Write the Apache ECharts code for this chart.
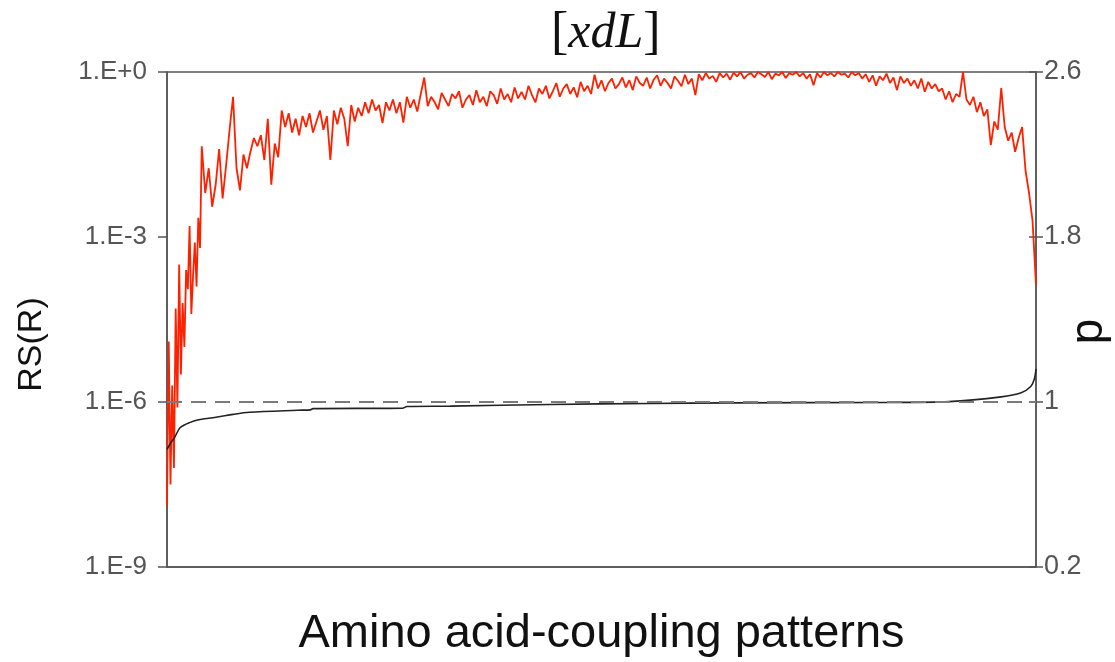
<!DOCTYPE html>
<html><head><meta charset="utf-8">
<script src="https://cdn.jsdelivr.net/npm/echarts@6/dist/echarts.min.js"></script>
<style>html,body{margin:0;padding:0;background:#fff}#c{width:1115px;height:662px}</style>
</head><body><div id="c"></div>
<script>
// RS(R), stored as log10 exponents.
// Head: pattern ranks 0..40, step 2
const rsHeadExp = [-7.9,-4.9,-7.5,-5.7,-7.2,-4.3,-6.1,-3.5,-5.5,-4.2,
  -5.0,-3.6,-3.95,-2.8,-4.4,-3.7,-3.1,-3.9,-2.65,-3.2,-1.35];
// Tail: pattern ranks 44..1000, step 4
const rsTailExp = [
  -2.2,-1.75,-2.45,-2.05,-1.4,-2.3,-1.7,-1.05,-0.45,-1.75,
  -2.15,-1.5,-1.75,-1.45,-1.2,-1.35,-1.15,-1.6,-0.85,-2.05,
  -1.3,-1.55,-0.7,-1.0,-0.75,-1.1,-0.85,-1.15,-0.8,-1.0,
  -0.75,-1.1,-0.9,-0.7,-1.05,-0.8,-1.6,-0.7,-0.95,-0.65,
  -0.85,-1.35,-0.6,-0.9,-0.65,-0.8,-0.55,-0.75,-0.5,-0.7,
  -0.6,-0.93,-0.55,-0.7,-0.5,-0.75,-0.55,-0.92,-0.45,-0.65,
  -0.5,-0.72,-0.4,-0.1,-0.62,-0.45,-0.55,-0.68,-0.38,-0.5,
  -0.62,-0.4,-0.48,-0.35,-0.65,-0.5,-0.42,-0.6,-0.33,-0.55,
  -0.45,-0.62,-0.35,-0.42,-0.58,-0.3,-0.5,-0.4,-0.55,-0.28,
  -0.48,-0.36,-0.5,-0.25,-0.42,-0.55,-0.3,-0.4,-0.25,-0.48,
  -0.35,-0.2,-0.45,-0.3,-0.22,-0.4,-0.28,-0.46,-0.18,-0.35,
  -0.25,-0.4,-0.05,-0.3,-0.15,-0.35,-0.2,-0.12,-0.3,-0.22,
  -0.1,-0.28,-0.15,-0.33,-0.08,-0.2,-0.25,-0.1,-0.3,-0.14,
  -0.06,-0.25,-0.12,-0.2,-0.3,-0.08,-0.16,-0.26,-0.05,-0.22,
  -0.12,-0.42,-0.04,-0.15,-0.02,-0.12,-0.07,-0.18,-0.02,-0.1,
  -0.03,-0.14,-0.01,-0.08,0,-0.12,-0.05,-0.02,-0.1,0,
  -0.04,-0.09,0,-0.13,-0.03,-0.06,0,-0.11,-0.02,-0.05,
  0,-0.08,-0.02,-0.12,-0.04,-0.24,-0.02,-0.1,0,-0.06,
  -0.02,-0.08,0,-0.05,-0.03,-0.1,0,-0.06,-0.02,-0.12,
  -0.04,-0.18,-0.06,-0.25,-0.08,-0.15,-0.03,-0.2,-0.1,-0.33,
  -0.08,-0.2,-0.12,-0.25,-0.15,-0.3,-0.12,-0.36,-0.18,-0.3,
  -0.22,-0.35,-0.3,-0.5,-0.35,-0.55,-0.4,-0.45,0,-0.5,
  -0.6,-0.45,-0.73,-0.55,-0.8,-0.68,-1.33,-0.9,-1.05,-0.29,
  -1.0,-1.25,-1.1,-1.45,-1.2,-1.0,-1.8,-2.2,-2.7,-3.87];

// d curve (right axis)
const dRank  = [0,4,9,15,26,38,58,76,95,150,165,168,271,276,326,441,556,648,832,900,960,983,994,998,1000];
const dValue = [0.77,0.80,0.83,0.875,0.90,0.915,0.927,0.94,0.95,0.96,0.962,0.968,0.97,0.978,0.98,0.988,0.993,0.996,0.998,1.002,1.025,1.045,1.075,1.11,1.16];

const refLineD = 1;
const titleText = 'xdL';
const xName = 'Amino acid-coupling patterns';
const yLeftName = 'RS(R)';
const yRightName = 'd';

const rsData = rsHeadExp.map((e,i)=>[2*i, Math.pow(10,e)])
  .concat(rsTailExp.map((e,i)=>[44+4*i, Math.pow(10,e)]));
const dData = dRank.map((r,i)=>[r, dValue[i]]);

const AX = '#555';
const FONT = 'Liberation Sans, Arial, sans-serif';
const SERIF = 'Liberation Serif, Times New Roman, serif';
const chart = echarts.init(document.getElementById('c'), null, {renderer:'canvas'});
chart.setOption({
  animation:false,
  backgroundColor:'#fff',
  title:{
    text:'{b|[}{i|'+titleText+'}{b|]}',
    left:546, top:3,
    textStyle:{rich:{
      b:{fontFamily:SERIF,fontSize:52,fontWeight:'normal',color:'#111'},
      i:{fontFamily:SERIF,fontSize:50,fontWeight:'normal',fontStyle:'italic',color:'#111'}
    }}
  },
  grid:{left:167,right:79,top:72,bottom:95,show:true,borderColor:AX,borderWidth:1.5,
    backgroundColor:'transparent',containLabel:false,outerBoundsMode:'none'},
  xAxis:{
    type:'value',min:0,max:1000,
    name:xName,nameLocation:'middle',nameGap:44,nameMoveOverlap:false,
    nameTextStyle:{fontFamily:FONT,fontSize:47,color:'#111'},
    axisLine:{show:true,lineStyle:{color:AX,width:1.5}},
    axisTick:{show:false},axisLabel:{show:false},splitLine:{show:false}
  },
  yAxis:[
    {
      type:'log',logBase:1000,min:1e-9,max:1,position:'left',
      name:yLeftName,nameLocation:'middle',nameRotate:90,nameGap:118,nameMoveOverlap:false,
      nameTextStyle:{fontFamily:FONT,fontSize:34,color:'#111',padding:[0,50,0,0]},
      axisLine:{show:true,lineStyle:{color:AX,width:1.5}},
      axisTick:{show:true,inside:false,length:9,lineStyle:{color:AX,width:1.5}},
      axisLabel:{margin:20,fontFamily:FONT,fontSize:26,color:'#555',
        formatter:v=>{const e=Math.round(Math.log10(v));return '1.E'+(e>=0?'+':'')+e;}},
      splitLine:{show:false}
    },
    {
      type:'value',min:0.2,max:2.6,interval:0.8,position:'right',
      name:yRightName,nameLocation:'middle',nameRotate:-90,nameGap:31,nameMoveOverlap:false,
      nameTextStyle:{fontFamily:FONT,fontSize:46,color:'#111',padding:[0,0,0,24]},
      axisLine:{show:true,lineStyle:{color:AX,width:1.5}},
      axisTick:{show:true,inside:false,length:7,lineStyle:{color:AX,width:1.5}},
      axisLabel:{margin:8,fontFamily:FONT,fontSize:27,color:'#555',
        formatter:v=>String(+v.toFixed(1))},
      splitLine:{show:false}
    },
    {
      type:'value',min:0.2,max:2.6,interval:0.8,position:'right',
      axisLine:{show:false},
      axisTick:{show:true,inside:true,length:7,lineStyle:{color:AX,width:1.5}},
      axisLabel:{show:false},splitLine:{show:false}
    }
  ],
  series:[
    {
      type:'line',xAxisIndex:0,yAxisIndex:0,data:rsData,
      showSymbol:false,symbol:'none',
      lineStyle:{color:'#ff2000',width:1.8},
      clip:true,z:2
    },
    {
      type:'line',xAxisIndex:0,yAxisIndex:1,data:dData,smooth:0.3,
      showSymbol:false,symbol:'none',
      lineStyle:{color:'#222',width:1.6},
      clip:true,z:3,
      markLine:{silent:true,symbol:'none',label:{show:false},
        lineStyle:{color:'#7a7a7a',type:[15,9],width:1.8},
        data:[{yAxis:refLineD}]}
    }
  ]
});
</script>
</body></html>
